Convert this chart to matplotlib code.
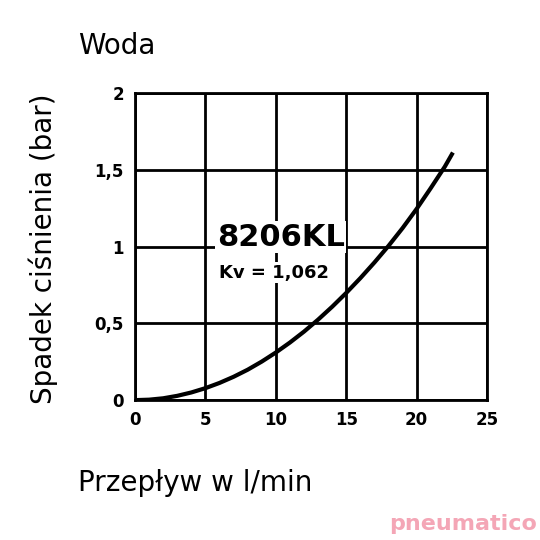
import matplotlib.pyplot as plt

plt.rcParams['font.family'] = ['Liberation Sans Narrow', 'DejaVu Sans']

# flow (l/min) vs pressure drop (bar)
flow = [0, 1, 2, 3, 4, 5, 6, 7, 8, 9, 10, 11, 12, 13, 14, 15, 16, 17, 18,
        19, 20, 21, 22, 22.5]
drop = [0, 0.003, 0.012, 0.028, 0.05, 0.078, 0.112, 0.152, 0.198, 0.251,
        0.31, 0.375, 0.446, 0.524, 0.608, 0.698, 0.794, 0.896, 1.004, 1.12,
        1.245, 1.38, 1.52, 1.6]
xticks = [0, 5, 10, 15, 20, 25]
yticks = [0, 0.5, 1, 1.5, 2]
ylabels = ['0', '0,5', '1', '1,5', '2']

fig = plt.figure(figsize=(5.4, 5.4), dpi=100)
ax = fig.add_axes([0.25, 0.259, 0.652, 0.569])
ax.plot(flow, drop, color='black', linewidth=3, zorder=3)
ax.set_xlim(0, 25)
ax.set_ylim(0, 2)
ax.set_xticks(xticks)
ax.set_yticks(yticks)
ax.set_yticklabels(ylabels)
ax.grid(True, color='black', linewidth=2)
for s in ax.spines.values():
    s.set_linewidth(2)
ax.tick_params(length=0, labelsize=12, pad=8)
for lab in ax.get_xticklabels() + ax.get_yticklabels():
    lab.set_fontweight('bold')

ax.text(5.8, 1.06, '8206KL', fontsize=22, fontweight='bold', va='center',
        bbox=dict(facecolor='white', edgecolor='none', pad=1), zorder=4)
ax.text(6, 0.83, 'Kv = 1,062', fontsize=13, fontweight='bold', va='center',
        bbox=dict(facecolor='white', edgecolor='none', pad=1), zorder=4)

fig.text(0.145, 0.915, 'Woda', fontsize=20, va='center')
fig.text(0.08, 0.54, 'Spadek ciśnienia (bar)', fontsize=20, rotation=90,
         va='center', ha='center')
fig.text(0.145, 0.105, 'Przepływ w l/min', fontsize=20, va='center')
fig.text(0.995, 0.03, 'pneumatico', fontsize=16, fontweight='bold',
         color='#f4a6b6', ha='right', va='center')

fig.savefig('out.png', dpi=100)
